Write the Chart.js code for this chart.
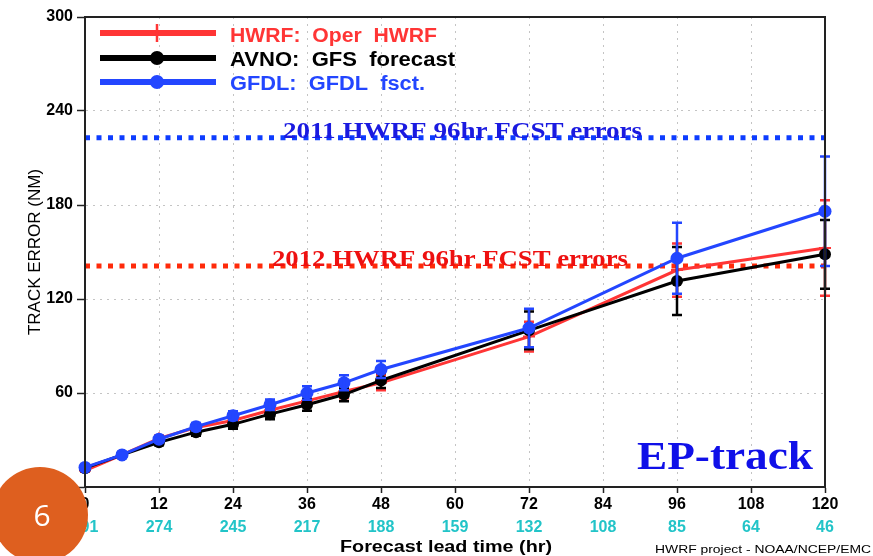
<!DOCTYPE html>
<html>
<head>
<meta charset="utf-8">
<script src="https://cdn.jsdelivr.net/npm/chart.js@4.4.0/dist/chart.umd.min.js"></script>
<style>
  html, body { margin: 0; padding: 0; background: #fff; }
</style>
</head>
<body>
<canvas id="chart" width="873" height="556"></canvas>
<script>
// forecast lead times (hr) and mean track errors (NM)
const hours = [0, 6, 12, 18, 24, 30, 36, 42, 48, 72, 96, 120];
const hwrf = [10.5, 20.5, 31, 38, 42.5, 49, 55, 61, 66.5, 96, 138.5, 152.5];
const avno = [12, 20.5, 28.5, 35, 40, 46.5, 52.5, 59, 68, 100, 131.5, 148.5];
const gfdl = [12.5, 20.5, 30.5, 38.5, 45.5, 52.5, 60, 66.5, 75, 101.5, 146, 176];

// half width of the error bars
const hwrfErr = [0.8, 1.2, 1.8, 2.3, 2.8, 3.3, 3.8, 4.3, 4.8, 9.5, 17, 30.5];
const avnoErr = [0.8, 1.2, 1.8, 2.3, 2.8, 3.3, 3.8, 4.3, 4.8, 12, 21.7, 22];
const gfdlErr = [0.8, 1.2, 1.8, 2.3, 2.8, 3.3, 4.3, 4.8, 5.5, 12.3, 22.7, 35];

// number of cases under each x tick
const caseHours = [0, 12, 24, 36, 48, 60, 72, 84, 96, 108, 120];
const caseCounts = [291, 274, 245, 217, 188, 159, 132, 108, 85, 64, 46];

const ref2011 = 223;
const ref2012 = 141;

const RED = '#ff3535';
const BLACK = '#000000';
const BLUE = '#2346ff';

const errorsByLabel = { HWRF: hwrfErr, AVNO: avnoErr, GFDL: gfdlErr };

function toPoints(values) {
  return hours.map((h, i) => ({ x: h, y: values[i] }));
}

// draw text squeezed/stretched to a given width
function fitText(ctx, text, x, y, width, font, color, align) {
  ctx.save();
  ctx.font = font;
  ctx.fillStyle = color;
  ctx.textAlign = 'left';
  ctx.textBaseline = 'alphabetic';
  const w = ctx.measureText(text).width;
  let left = x;
  if (align === 'center') left = x - width / 2;
  if (align === 'right') left = x - width;
  ctx.translate(left, y);
  ctx.scale(width / w, 1);
  ctx.fillText(text, 0, 0);
  ctx.restore();
}

const errorBars = {
  id: 'errorBars',
  afterDatasetDraw(chart, args) {
    const ds = chart.data.datasets[args.index];
    const errs = errorsByLabel[ds.label];
    if (!errs) return;
    const yScale = chart.scales.y;
    const ctx = chart.ctx;
    ctx.save();
    ctx.strokeStyle = ds.borderColor;
    ctx.lineWidth = 2.5;
    args.meta.data.forEach((pt, i) => {
      const v = ds.data[i].y;
      const top = yScale.getPixelForValue(v + errs[i]);
      const bot = yScale.getPixelForValue(v - errs[i]);
      ctx.beginPath();
      ctx.moveTo(pt.x, top);
      ctx.lineTo(pt.x, bot);
      ctx.moveTo(pt.x - 5, top);
      ctx.lineTo(pt.x + 5, top);
      ctx.moveTo(pt.x - 5, bot);
      ctx.lineTo(pt.x + 5, bot);
      ctx.stroke();
    });
    ctx.restore();
  }
};

const overlay = {
  id: 'overlay',
  afterDraw(chart) {
    const ctx = chart.ctx;
    const area = chart.chartArea;
    const xScale = chart.scales.x;

    // box around the plot
    ctx.save();
    ctx.strokeStyle = '#222';
    ctx.lineWidth = 2;
    ctx.strokeRect(area.left, area.top, area.right - area.left, area.bottom - area.top);
    ctx.restore();

    // reference line labels
    fitText(ctx, '2011 HWRF 96hr FCST errors', 283, 138, 359, 'bold 23px "Liberation Serif"', '#1a1ae0', 'left');
    fitText(ctx, '2012 HWRF 96hr FCST errors', 272, 266, 356, 'bold 23px "Liberation Serif"', '#ee1010', 'left');

    fitText(ctx, 'EP-track', 637, 469, 176, 'bold 40px "Liberation Serif"', '#1010e8', 'left');

    // legend
    const legendItems = [
      { text: 'HWRF:  Oper  HWRF', color: RED, y: 33, base: 41.5, width: 207, marker: 'cross' },
      { text: 'AVNO:  GFS  forecast', color: BLACK, y: 58, base: 66, width: 225, marker: 'dot' },
      { text: 'GFDL:  GFDL  fsct.', color: BLUE, y: 82, base: 89.5, width: 195, marker: 'dot' }
    ];
    legendItems.forEach(item => {
      ctx.save();
      ctx.strokeStyle = item.color;
      ctx.fillStyle = item.color;
      ctx.lineWidth = 6;
      ctx.beginPath();
      ctx.moveTo(100, item.y);
      ctx.lineTo(216, item.y);
      ctx.stroke();
      if (item.marker === 'dot') {
        ctx.beginPath();
        ctx.arc(157, item.y, 7, 0, Math.PI * 2);
        ctx.fill();
      } else {
        ctx.lineWidth = 2.5;
        ctx.beginPath();
        ctx.moveTo(157, item.y - 9);
        ctx.lineTo(157, item.y + 9);
        ctx.stroke();
      }
      ctx.restore();
      fitText(ctx, item.text, 230, item.base, item.width, 'bold 20px "Liberation Sans"', item.color, 'left');
    });

    // case counts
    ctx.save();
    ctx.font = 'bold 16px "Liberation Sans"';
    ctx.fillStyle = '#22c4c8';
    ctx.textAlign = 'center';
    ctx.textBaseline = 'alphabetic';
    caseHours.forEach((h, i) => {
      ctx.fillText(String(caseCounts[i]), xScale.getPixelForValue(h), 532);
    });
    ctx.restore();

    fitText(ctx, 'Forecast lead time (hr)', 446, 552, 212, 'bold 16px "Liberation Sans"', '#000', 'center');
    fitText(ctx, 'HWRF project - NOAA/NCEP/EMC', 655, 552.5, 216, '11px "Liberation Sans"', '#000', 'left');

    // slide number badge
    ctx.save();
    ctx.fillStyle = '#de5f1f';
    ctx.beginPath();
    ctx.arc(40, 515, 48, 0, Math.PI * 2);
    ctx.fill();
    ctx.fillStyle = '#fff';
    ctx.font = '30px "Open Sans"';
    ctx.textAlign = 'center';
    ctx.textBaseline = 'middle';
    ctx.fillText('6', 42, 517);
    ctx.restore();
  }
};

const chart = new Chart(document.getElementById('chart'), {
  type: 'line',
  data: {
    datasets: [
      {
        label: 'GFDL',
        data: toPoints(gfdl),
        borderColor: BLUE,
        backgroundColor: BLUE,
        borderWidth: 3,
        pointRadius: 6.5,
        pointBorderWidth: 0,
        clip: 12,
        order: 1
      },
      {
        label: 'AVNO',
        data: toPoints(avno),
        borderColor: BLACK,
        backgroundColor: BLACK,
        borderWidth: 3,
        pointRadius: 6,
        pointBorderWidth: 0,
        clip: 12,
        order: 2
      },
      {
        label: 'HWRF',
        data: toPoints(hwrf),
        borderColor: RED,
        backgroundColor: RED,
        borderWidth: 3,
        pointStyle: 'cross',
        pointRadius: 6,
        pointBorderWidth: 2,
        clip: 12,
        order: 3
      },
      {
        label: '2011 HWRF 96hr',
        data: [{ x: 0, y: ref2011 }, { x: 120, y: ref2011 }],
        borderColor: '#0d3cff',
        borderWidth: 5,
        borderDash: [5, 6.5],
        pointRadius: 0,
        order: 4
      },
      {
        label: '2012 HWRF 96hr',
        data: [{ x: 0, y: ref2012 }, { x: 120, y: ref2012 }],
        borderColor: '#ff2a0a',
        borderWidth: 5,
        borderDash: [5, 6.5],
        pointRadius: 0,
        order: 5
      }
    ]
  },
  options: {
    responsive: false,
    animation: false,
    devicePixelRatio: 1,
    layout: { padding: { top: 17, right: 48, left: 0, bottom: 0 } },
    plugins: {
      legend: { display: false },
      tooltip: { enabled: false }
    },
    scales: {
      x: {
        type: 'linear',
        min: 0,
        max: 120,
        ticks: {
          stepSize: 12,
          padding: 2,
          color: '#000',
          font: { family: 'Liberation Sans', size: 16, weight: 'bold' }
        },
        grid: {
          color: '#c4c4c4',
          lineWidth: 1,
          tickLength: 6,
          tickColor: '#222',
          tickWidth: 1.5
        },
        border: { color: '#222', width: 2, dash: [2, 5] },
        afterFit(scale) { scale.height = 69; }
      },
      y: {
        min: 0,
        max: 300,
        ticks: {
          stepSize: 60,
          padding: 4,
          color: '#000',
          font: { family: 'Liberation Sans', size: 16, weight: 'bold' }
        },
        grid: {
          color: '#c4c4c4',
          lineWidth: 1,
          tickLength: 8,
          tickColor: '#222',
          tickWidth: 1.5
        },
        border: { color: '#222', width: 2, dash: [2, 5] },
        title: {
          display: true,
          text: 'TRACK ERROR (NM)',
          color: '#000',
          padding: { top: 25, bottom: 0 },
          font: { family: 'Liberation Sans', size: 17 }
        },
        afterFit(scale) { scale.width = 85; }
      }
    }
  },
  plugins: [errorBars, overlay]
});
</script>
</body>
</html>
